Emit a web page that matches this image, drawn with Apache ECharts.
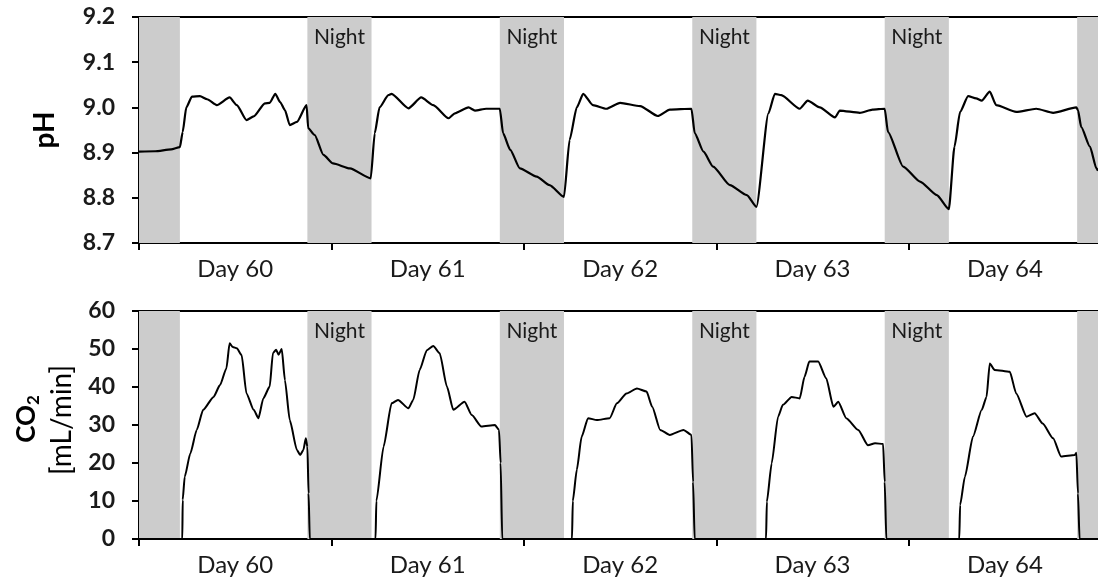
<!DOCTYPE html>
<html><head><meta charset="utf-8">
<script src="https://cdn.jsdelivr.net/npm/echarts@6/dist/echarts.min.js"></script>
<style>html,body{margin:0;padding:0;background:#fff}#c{width:1098px;height:581px}</style>
</head><body><div id="c"></div>
<script>
// time axis in hours from the start of Day 60
const hoursMax = 119.6;
const dayTicks = [0, 24, 48, 72, 96];
const dayLabelPos = [12, 36, 60, 84, 108];
const dayLabels = ['Day 60', 'Day 61', 'Day 62', 'Day 63', 'Day 64'];
// dark periods [start h, end h, label]
const nights = [[0, 5.1, ''], [21, 29, 'Night'], [45, 53, 'Night'], [69, 77, 'Night'], [93, 101, 'Night'], [117, 119.6, '']];

const phData = [[0,8.902],[2,8.903],[4,8.907],[5.1,8.912],[5.45,8.946],[5.9,9.0],[6.6,9.024],[7.6,9.025],[8.5,9.018],[9.7,9.005],[11.3,9.022],[12.2,9.005],[13.4,8.972],[14.3,8.98],[15.7,9.009],[16.3,9.01],[17.0,9.03],[17.6,9.012],[18.2,8.994],[18.8,8.961],[19.7,8.968],[20.9,9.005],[21.1,8.954],[21.9,8.939],[23.0,8.895],[24.2,8.876],[26.3,8.865],[28.9,8.843],[29.4,8.943],[30.0,9.0],[31.1,9.027],[31.5,9.03],[33.6,8.998],[35.2,9.022],[36.7,9.005],[38.6,8.976],[39.4,8.987],[41.1,9.0],[41.9,8.993],[43.3,8.997],[45.0,8.997],[45.4,8.943],[46.3,8.906],[47.5,8.865],[49.6,8.847],[51.2,8.828],[53.0,8.802],[53.7,8.928],[54.6,9.0],[55.4,9.03],[56.6,9.005],[58.3,8.997],[60.0,9.01],[62.5,9.003],[64.7,8.981],[66.2,8.995],[68.9,8.997],[69.3,8.943],[70.4,8.902],[71.6,8.869],[73.7,8.828],[75.8,8.806],[77.0,8.78],[78.5,8.987],[79.3,9.03],[80.1,9.027],[82.4,8.997],[83.4,9.015],[84.9,9.0],[86.8,8.978],[87.4,8.993],[89.9,8.988],[91.5,8.995],[93.0,8.997],[93.4,8.946],[95.3,8.869],[97.4,8.836],[99.5,8.806],[101.0,8.775],[101.7,8.913],[102.4,8.99],[103.4,9.025],[104.4,9.02],[105.1,9.015],[106.1,9.035],[106.9,9.005],[109.4,8.99],[111.9,8.997],[114.0,8.988],[116.9,9.0],[117.1,8.994],[117.5,8.957],[118.6,8.913],[119.4,8.865],[119.6,8.86]];

const co2Data = [[0,0],[5.4,0],[5.45,10.3],[5.7,16.4],[6.4,22.5],[7.2,28.7],[8.0,34],[9.3,37.4],[10.1,40.5],[10.9,44.9],[11.3,51.5],[11.7,50.5],[12.2,50.2],[12.8,48.4],[13.4,38.3],[14.3,34],[14.9,31.8],[15.5,37],[16.3,40.1],[16.7,48.9],[17.1,49.8],[17.4,48.5],[17.8,50],[18.2,41.8],[18.8,31.3],[19.7,23.4],[20.1,22.1],[20.5,23.4],[20.8,26.5],[21.0,24.3],[21.15,12],[21.3,0],[29.5,0],[29.6,10],[30.5,24.3],[31.5,35.7],[32.3,36.6],[33.6,34.4],[34.2,36.6],[35.0,44.5],[35.9,49.7],[36.7,50.8],[37.5,48.9],[38.4,40.1],[39.2,34],[40.6,36.1],[41.5,32.6],[42.7,29.6],[44.4,30],[44.9,28.7],[45.1,20],[45.3,0],[54.0,0],[54.1,10],[54.6,18.2],[55.2,26.9],[56.0,31.8],[57.1,31.3],[58.7,31.8],[59.6,35.7],[60.8,38.3],[62.1,39.6],[63.3,38.8],[64.0,34.8],[65.0,28.7],[66.2,27.4],[67.9,28.7],[68.9,27.4],[69.1,15],[69.3,0],[78.2,0],[78.3,9.8],[78.9,19.9],[79.7,32.2],[80.3,35.3],[81.4,37.4],[82.4,37],[83.0,42.7],[83.6,46.7],[84.7,46.7],[85.7,42.3],[86.6,34.8],[87.2,36.1],[88.2,31.8],[89.7,28.7],[90.9,24.7],[91.8,25.2],[92.8,25],[93.0,15],[93.2,0],[102.3,0],[102.4,8.9],[103.0,16.4],[104.0,26.9],[105.1,34],[105.7,37.4],[106.1,46.2],[106.7,44.5],[108.6,44],[109.4,38.3],[110.7,32.2],[111.7,33.1],[112.7,30.4],[114.0,26.5],[115.0,21.7],[116.7,22.1],[116.9,22.7],[117.1,12],[117.3,0],[119.6,0]];

const FONT = 'Lato';
const chart = echarts.init(document.getElementById('c'), null, {renderer: 'canvas'});

function bottomX(gi) {
  return {
    type: 'value', gridIndex: gi, min: 0, max: hoursMax, position: 'bottom',
    axisLine: {show: true, onZero: false, lineStyle: {color: '#000', width: 2}},
    axisTick: {show: true, customValues: dayTicks, length: 7, lineStyle: {color: '#000', width: 2}},
    axisLabel: {show: true, customValues: dayLabelPos, margin: 14,
      formatter: v => dayLabels[dayLabelPos.indexOf(v)],
      fontFamily: FONT, fontSize: 24, color: '#1a1a1a'},
    splitLine: {show: false}
  };
}
function topX(gi) {
  return {
    type: 'value', gridIndex: gi, min: 0, max: hoursMax, position: 'top',
    axisLine: {show: true, onZero: false, lineStyle: {color: '#000', width: 2}},
    axisTick: {show: false}, axisLabel: {show: false}, splitLine: {show: false}
  };
}
function nightArea(topDist) {
  return {
    silent: true,
    itemStyle: {color: '#cccccc'},
    label: {show: true, position: 'insideTop', distance: topDist, formatter: '{b}',
      fontFamily: FONT, fontSize: 21, color: '#1a1a1a'},
    data: nights.map(n => [{name: n[2], xAxis: n[0]}, {xAxis: n[1]}])
  };
}

chart.setOption({
  animation: false,
  backgroundColor: '#fff',
  grid: [
    {left: 139, right: 0, top: 17, height: 226},
    {left: 139, right: 0, top: 311, height: 228}
  ],
  graphic: [
    {type: 'text', x: 27, y: 419, rotation: Math.PI / 2,
      style: {text: '{b|CO}{s|2}', align: 'center', verticalAlign: 'middle',
        rich: {
          b: {fontFamily: FONT, fontSize: 26, fontWeight: 'bold', lineHeight: 30, fill: '#000'},
          s: {fontFamily: FONT, fontSize: 17, fontWeight: 'bold', lineHeight: 17, verticalAlign: 'bottom', fill: '#000'}
        }}},
    {type: 'text', x: 62, y: 420, rotation: Math.PI / 2,
      style: {text: '[mL/min]', align: 'center', verticalAlign: 'middle',
        fontFamily: FONT, fontSize: 28, fill: '#000'}}
  ],
  xAxis: [bottomX(0), topX(0), bottomX(1), topX(1)],
  yAxis: [
    {type: 'value', gridIndex: 0, min: 8.7, max: 9.2, interval: 0.1,
      name: 'pH', nameLocation: 'middle', nameRotate: 90, nameGap: 80,
      nameTextStyle: {fontFamily: FONT, fontSize: 28, fontWeight: 'bold', color: '#000'},
      axisLine: {show: true, lineStyle: {color: '#000', width: 2}},
      axisTick: {show: true, length: 7, lineStyle: {color: '#000', width: 2}},
      axisLabel: {formatter: v => v.toFixed(1), margin: 24, fontFamily: FONT, fontSize: 23, fontWeight: 'bold', color: '#1a1a1a'},
      splitLine: {show: false}},
    {type: 'value', gridIndex: 1, min: 0, max: 60, interval: 10,
      axisLine: {show: true, lineStyle: {color: '#000', width: 2}},
      axisTick: {show: true, length: 7, lineStyle: {color: '#000', width: 2}},
      axisLabel: {margin: 24, fontFamily: FONT, fontSize: 23, fontWeight: 'bold', color: '#1a1a1a'},
      splitLine: {show: false}}
  ],
  series: [
    {type: 'line', xAxisIndex: 0, yAxisIndex: 0, data: phData, showSymbol: false, symbol: 'none',
      smooth: 0.2, smoothMonotone: 'x',
      lineStyle: {color: '#000', width: 2.2}, markArea: nightArea(10), z: 3},
    {type: 'line', xAxisIndex: 2, yAxisIndex: 1, data: co2Data, showSymbol: false, symbol: 'none',
      smooth: 0.2, smoothMonotone: 'x',
      lineStyle: {color: '#000', width: 2}, markArea: nightArea(10), z: 3}
  ]
});
</script></body></html>
